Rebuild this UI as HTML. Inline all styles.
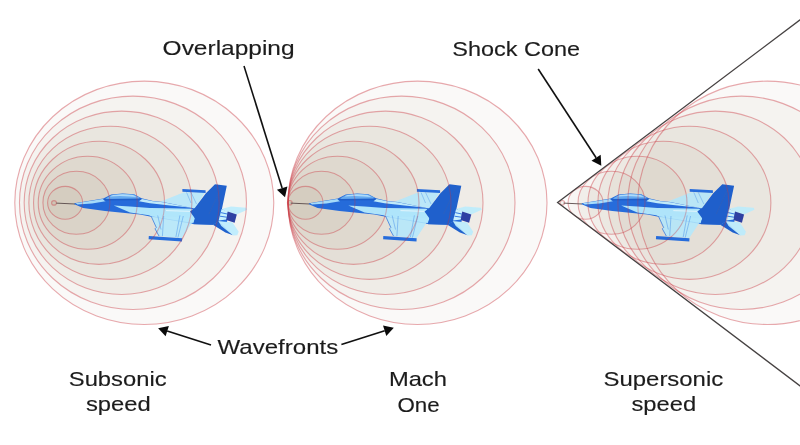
<!DOCTYPE html>
<html><head><meta charset="utf-8"><title>Sonic boom</title>
<style>
html,body{margin:0;padding:0;background:#fff;}
body{width:800px;height:445px;overflow:hidden;font-family:"Liberation Sans",sans-serif;}
svg{display:block;will-change:transform;transform:translateZ(0);filter:blur(0.4px);}
.f{fill:rgb(152,130,100);stroke:none;}
.s{fill:none;stroke:#cc424c;stroke-opacity:0.45;stroke-width:1.1;}
text{font-family:"Liberation Sans",sans-serif;fill:#1c1c1c;stroke:#1c1c1c;stroke-width:0.15;}
</style></head><body>
<svg width="800" height="445" viewBox="0 0 800 445">
<rect width="800" height="445" fill="#ffffff"/>
<defs>

<clipPath id="pc">
<path d="M74.4 203.3 L103.3 198.5 L111.2 194.6 L122.6 193.4 L134 194.2 L141.5 198.3 L153 201 L163 202 L194.8 208.4 L222 209 L228 212.5 L227 222.3 L218.5 221.6 L212.9 224.8 L193.4 224 L151.2 216.8 L140 214.6 L105 211 L83.1 207.9 L74.4 204.2 Z"/>
<path d="M160 201.8 L184 192.2 L182.4 188.9 L205.6 190.2 L205.6 193 L194.8 208.4 Z"/>
<path d="M151.2 216.3 L156.3 227.5 L155 228.8 L159 236 L148.8 236 L148.6 239.2 L182 241.4 L182.2 238.2 L194.7 218.7 L180 217 Z"/>
<path d="M215 184.2 L226.8 185.7 L222 208.4 L219 221 L212.9 224.8 L193.4 224.2 L195 218.6 L190 211.6 L194.8 208 L205.9 193.3 Z"/>
<path d="M222 208.7 L231 206.5 L246.4 207.8 L247.2 209.8 L236.8 214.5 L234.6 222.7 L232.4 222.3 L238.7 231.7 L237.3 235.2 L233.1 235.4 L225.4 232.4 L212.9 224.8 L218.5 221.2 Z"/>
</clipPath>

<g id="plane" opacity="0.9">
 <!-- pitot -->
 <path d="M56.2 203.1 L75 204" stroke="#5a4a4a" stroke-width="1" fill="none"/>
 <!-- far wing -->
 <path d="M160 201.8 L184 192.2 L205 192.6 L194.8 208.4 Z" fill="#aee8ff" fill-opacity="0.86"/>
 <path d="M191 192.4 L196.5 204 M186.5 192.3 L191 203" stroke="#4a94ee" stroke-width="0.6" fill="none" stroke-opacity="0.8"/>
 <path d="M182.4 188.9 L205.6 190.2 L205.6 193 L182.4 191.7 Z" fill="#1260dc"/>
 <!-- upper stabilizer -->
 <path d="M222 208.7 L231 206.5 L246.4 207.8 L247.2 209.8 L236.6 214.6 L227.5 211.6 Z" fill="#b6ecff" fill-opacity="0.9"/>
 <!-- fuselage base (medium blue) -->
 <path d="M74.4 203.3 L103.3 198.5 L111.2 194.6 L122.6 193.4 L134 194.2 L141.5 198.3 L153 201 L163 202 L194.8 208.4 L222 209 L228 212.5 L227 222.3 L218.5 221.6 L212.9 224.8 L193.4 224 L151.2 216.8 L140 214.6 L105 211 L83.1 207.9 L74.4 204.2 Z" fill="#1260dc"/>
 <!-- nose top highlight -->
 <path d="M75.6 203.2 L102.6 198.9 L105.6 201.2 L92 203.4 L77.5 204.6 Z" fill="#a0dcff"/>
 <!-- canopy glass -->
 <path d="M105.6 198.4 L111.4 195 L122.6 193.8 L134 194.5 L140.2 198 L138.4 198.9 L107 199.1 Z" fill="#5aa6f4"/><path d="M110 196.4 L113 195.1 L122.6 194.3 L133 194.9 L136.8 196.9 L130 196.5 L120 196.1 Z" fill="#a8dcff"/>
 <path d="M103.6 198.9 L141 198.6 L143 200.3 L104.5 200.5 Z" fill="#0a52ca"/>
 <!-- top fuselage light -->
 <path d="M142 198.9 L153 201.3 L163 202.3 L194 208.3 L192 207.8 L170 205.5 L150 203.3 L139 201.2 Z" fill="#bcecff"/>
 <!-- LEX / side light band -->
 <path d="M113.8 205.6 L130 206.6 L150 207.9 L170 208.3 L192 208.8 L194.7 212 L194.7 218.7 L193.4 223 L151.2 216.3 L148.9 215.3 L130 212.6 Z" fill="#aae6ff"/>
 <path d="M166 210.6 L192 211.4" stroke="#e8f8ff" stroke-width="0.9" fill="none"/>
 <!-- near wing -->
 <path d="M151.2 216.3 L156.3 227.5 L155 228.8 L159 236 L182 238 L194.7 218.7 L180 217 Z" fill="#aee8ff" fill-opacity="0.88"/>
 <path d="M151.2 216.3 L156.3 227.5 L155 228.8 L159 236" stroke="#1260dc" stroke-width="0.7" fill="none"/>
 <path d="M157.7 215.5 L161 229.5 M163.7 216 L162.4 236.2 M179.9 215.4 L175.9 237 M183.3 216 L177.9 237.6" stroke="#3f8cec" stroke-width="0.6" fill="none" stroke-opacity="0.85"/>
 <path d="M148.8 236 L182.2 238.2 L182 241.4 L148.6 239.2 Z" fill="#1260dc"/>
 <!-- rear fuselage + fin (dark) -->
 <path d="M215 184.2 L226.8 185.7 L222 208.4 L219 221 L212.9 224.8 L193.4 224.2 L195 218.6 L190 211.6 L194.8 208 L205.9 193.3 Z" fill="#0a52ca"/>
 <path d="M221.5 187 L209 214" stroke="#1a52ba" stroke-width="0.8" fill="none"/>
 <!-- engine housing -->
 <path d="M221.6 209 L227.8 211.4 L226.6 219.6 L218.6 220.4 Z" fill="#c4f0ff"/>
 <path d="M220.8 212.6 L227.2 214 M220 216.2 L226.8 217.2" stroke="#1260dc" stroke-width="0.9"/>
 <!-- nozzle -->
 <path d="M227.7 211.4 L236.8 214.5 L234.6 222.7 L226.2 219.9 Z" fill="#1a2e9c"/>
 <!-- lower stabilizer -->
 <path d="M212.9 224.8 L218.5 221.2 L233.1 235.2 L225.4 232.4 Z" fill="#0a52ca"/>
 <path d="M218.5 221.2 L232.4 222.3 L238.7 231.7 L237.3 235.2 L233.1 235.4 L221.3 226.1 Z" fill="#b6ecff" fill-opacity="0.92"/>
</g>

</defs>
<!-- subsonic -->
<g>
<ellipse cx="144.28" cy="202.80" rx="129.50" ry="121.71" class="f" fill-opacity="0.0480"/>
<ellipse cx="132.97" cy="202.80" rx="113.50" ry="106.67" class="f" fill-opacity="0.0512"/>
<ellipse cx="121.66" cy="202.80" rx="97.50" ry="91.64" class="f" fill-opacity="0.0544"/>
<ellipse cx="110.35" cy="202.80" rx="81.50" ry="76.60" class="f" fill-opacity="0.0576"/>
<ellipse cx="99.04" cy="202.80" rx="65.50" ry="61.56" class="f" fill-opacity="0.0608"/>
<ellipse cx="87.73" cy="202.80" rx="49.50" ry="46.52" class="f" fill-opacity="0.0640"/>
<ellipse cx="76.42" cy="202.80" rx="33.50" ry="31.48" class="f" fill-opacity="0.0672"/>
<ellipse cx="65.11" cy="202.80" rx="17.50" ry="16.45" class="f" fill-opacity="0.0704"/>
<ellipse cx="54.00" cy="202.90" rx="2.40" ry="2.26" class="f" fill-opacity="0.1"/>
<g id="sa">
<ellipse cx="144.28" cy="202.80" rx="129.50" ry="121.71" class="s"/>
<ellipse cx="132.97" cy="202.80" rx="113.50" ry="106.67" class="s"/>
<ellipse cx="121.66" cy="202.80" rx="97.50" ry="91.64" class="s"/>
<ellipse cx="110.35" cy="202.80" rx="81.50" ry="76.60" class="s"/>
<ellipse cx="99.04" cy="202.80" rx="65.50" ry="61.56" class="s"/>
<ellipse cx="87.73" cy="202.80" rx="49.50" ry="46.52" class="s"/>
<ellipse cx="76.42" cy="202.80" rx="33.50" ry="31.48" class="s"/>
<ellipse cx="65.11" cy="202.80" rx="17.50" ry="16.45" class="s"/>
<ellipse cx="54.00" cy="202.90" rx="2.40" ry="2.26" class="s"/>
</g>
</g>
<!-- mach one -->
<g>
<ellipse cx="417.50" cy="202.80" rx="129.50" ry="121.71" class="f" fill-opacity="0.0480"/>
<ellipse cx="401.50" cy="202.80" rx="113.50" ry="106.67" class="f" fill-opacity="0.0512"/>
<ellipse cx="385.50" cy="202.80" rx="97.50" ry="91.64" class="f" fill-opacity="0.0544"/>
<ellipse cx="369.50" cy="202.80" rx="81.50" ry="76.60" class="f" fill-opacity="0.0576"/>
<ellipse cx="353.50" cy="202.80" rx="65.50" ry="61.56" class="f" fill-opacity="0.0608"/>
<ellipse cx="337.50" cy="202.80" rx="49.50" ry="46.52" class="f" fill-opacity="0.0640"/>
<ellipse cx="321.50" cy="202.80" rx="33.50" ry="31.48" class="f" fill-opacity="0.0672"/>
<ellipse cx="305.50" cy="202.80" rx="17.50" ry="16.45" class="f" fill-opacity="0.0704"/>
<ellipse cx="289.80" cy="202.80" rx="2.40" ry="2.26" class="f" fill-opacity="0.1"/>
<g id="sb">
<ellipse cx="417.50" cy="202.80" rx="129.50" ry="121.71" class="s"/>
<ellipse cx="401.50" cy="202.80" rx="113.50" ry="106.67" class="s"/>
<ellipse cx="385.50" cy="202.80" rx="97.50" ry="91.64" class="s"/>
<ellipse cx="369.50" cy="202.80" rx="81.50" ry="76.60" class="s"/>
<ellipse cx="353.50" cy="202.80" rx="65.50" ry="61.56" class="s"/>
<ellipse cx="337.50" cy="202.80" rx="49.50" ry="46.52" class="s"/>
<ellipse cx="321.50" cy="202.80" rx="33.50" ry="31.48" class="s"/>
<ellipse cx="305.50" cy="202.80" rx="17.50" ry="16.45" class="s"/>
<ellipse cx="289.80" cy="202.80" rx="2.40" ry="2.26" class="s"/>
</g>
</g>
<!-- supersonic -->

<g>
<ellipse cx="767.27" cy="202.80" rx="129.50" ry="121.71" class="f" fill-opacity="0.0480"/>
<ellipse cx="741.31" cy="202.80" rx="113.50" ry="106.67" class="f" fill-opacity="0.0512"/>
<ellipse cx="715.35" cy="202.80" rx="97.50" ry="91.64" class="f" fill-opacity="0.0544"/>
<ellipse cx="689.39" cy="202.80" rx="81.50" ry="76.60" class="f" fill-opacity="0.0576"/>
<ellipse cx="663.43" cy="202.80" rx="65.50" ry="61.56" class="f" fill-opacity="0.0608"/>
<ellipse cx="637.47" cy="202.80" rx="49.50" ry="46.52" class="f" fill-opacity="0.0640"/>
<ellipse cx="611.51" cy="202.80" rx="33.50" ry="31.48" class="f" fill-opacity="0.0672"/>
<ellipse cx="585.56" cy="202.80" rx="17.50" ry="16.45" class="f" fill-opacity="0.0704"/>
<ellipse cx="562.30" cy="202.70" rx="2.40" ry="2.26" class="f" fill-opacity="0.1"/>
<g id="sc">
<ellipse cx="767.27" cy="202.80" rx="129.50" ry="121.71" class="s"/>
<ellipse cx="741.31" cy="202.80" rx="113.50" ry="106.67" class="s"/>
<ellipse cx="715.35" cy="202.80" rx="97.50" ry="91.64" class="s"/>
<ellipse cx="689.39" cy="202.80" rx="81.50" ry="76.60" class="s"/>
<ellipse cx="663.43" cy="202.80" rx="65.50" ry="61.56" class="s"/>
<ellipse cx="637.47" cy="202.80" rx="49.50" ry="46.52" class="s"/>
<ellipse cx="611.51" cy="202.80" rx="33.50" ry="31.48" class="s"/>
<ellipse cx="585.56" cy="202.80" rx="17.50" ry="16.45" class="s"/>
<ellipse cx="562.30" cy="202.70" rx="2.40" ry="2.26" class="s"/>
</g>
</g>
<path d="M820 4.8 L557.6 202.6 L820 401" fill="none" stroke="#464242" stroke-width="1.3" stroke-linejoin="miter"/>
<use href="#plane"/>
<use href="#plane" transform="translate(234.5 0)"/>
<use href="#plane" transform="translate(507.3 0)"/>
<g clip-path="url(#pc)"><use href="#sa" style="mix-blend-mode:multiply" opacity="0.7"/></g>
<g clip-path="url(#pc)" transform="translate(234.5 0)"><use href="#sb" transform="translate(-234.5 0)" style="mix-blend-mode:multiply" opacity="0.7"/></g>
<g clip-path="url(#pc)" transform="translate(507.3 0)"><use href="#sc" transform="translate(-507.3 0)" style="mix-blend-mode:multiply" opacity="0.7"/></g>
<!-- labels -->
<text x="162.6" y="55.2" textLength="132" lengthAdjust="spacingAndGlyphs" font-size="20.8">Overlapping</text>
<text x="452.3" y="56" textLength="127.8" lengthAdjust="spacingAndGlyphs" font-size="20.8">Shock Cone</text>
<text x="217.6" y="354" textLength="120.6" lengthAdjust="spacingAndGlyphs" font-size="20.8">Wavefronts</text>
<text x="68.8" y="386" textLength="97.8" lengthAdjust="spacingAndGlyphs" font-size="20.8">Subsonic</text>
<text x="85.9" y="411.3" textLength="64.8" lengthAdjust="spacingAndGlyphs" font-size="20.8">speed</text>
<text x="388.9" y="385.8" textLength="58" lengthAdjust="spacingAndGlyphs" font-size="20.8">Mach</text>
<text x="397.4" y="411.6" textLength="42.2" lengthAdjust="spacingAndGlyphs" font-size="20.8">One</text>
<text x="603.5" y="386" textLength="119.7" lengthAdjust="spacingAndGlyphs" font-size="20.8">Supersonic</text>
<text x="631.5" y="411.3" textLength="64.7" lengthAdjust="spacingAndGlyphs" font-size="20.8">speed</text>
<!-- arrows -->
<path d="M244.0 66.0 L282.1 188.0" stroke="#111" stroke-width="1.6" fill="none"/><path d="M285.0 197.2 L276.9 189.7 L287.4 186.4 Z" fill="#0a0a0a"/>
<path d="M538.2 69.0 L596.1 157.8" stroke="#111" stroke-width="1.6" fill="none"/><path d="M601.3 165.8 L591.5 160.8 L600.7 154.8 Z" fill="#0a0a0a"/>
<path d="M211.0 345.0 L167.2 331.1" stroke="#111" stroke-width="1.6" fill="none"/><path d="M158.1 328.2 L168.9 325.9 L165.6 336.3 Z" fill="#0a0a0a"/>
<path d="M341.4 344.6 L384.7 330.7" stroke="#111" stroke-width="1.6" fill="none"/><path d="M393.8 327.8 L386.3 336.0 L383.0 325.5 Z" fill="#0a0a0a"/>
</svg>
</body></html>
